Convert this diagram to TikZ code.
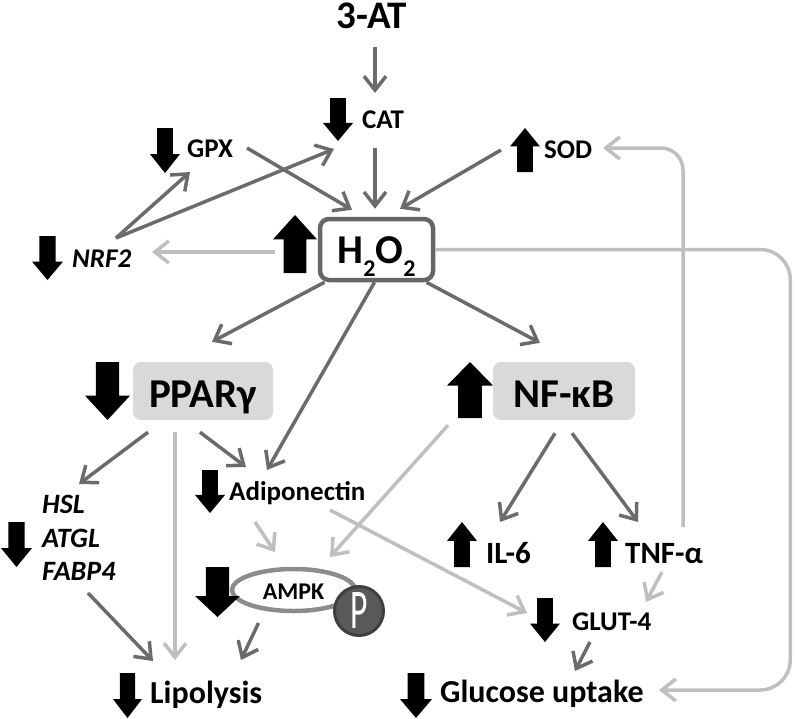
\documentclass[tikz,border=0pt]{standalone}
\usepackage{fontspec}
\setmainfont{Carlito}
\usetikzlibrary{arrows.meta,calc,shapes.geometric}
\definecolor{dk}{HTML}{6B6B6B}
\definecolor{lt}{HTML}{BFBFBF}
\definecolor{boxf}{HTML}{D9D9D9}
\definecolor{hbord}{HTML}{666666}
\definecolor{ampkc}{HTML}{8C8C8C}
\definecolor{pfill}{HTML}{595959}
\definecolor{pbord}{HTML}{3F3F3F}
\newcommand\blkdn[4]{\fill[black] ({#1+0.24*#3},{#2}) -- ({#1+0.76*#3},{#2}) -- ({#1+0.76*#3},{#2+0.58*#4}) -- ({#1+#3},{#2+0.58*#4}) -- ({#1+0.5*#3},{#2+#4}) -- ({#1},{#2+0.58*#4}) -- ({#1+0.24*#3},{#2+0.58*#4}) -- cycle;}
\newcommand\blkup[4]{\fill[black] ({#1+0.24*#3},{#2+#4}) -- ({#1+0.76*#3},{#2+#4}) -- ({#1+0.76*#3},{#2+0.42*#4}) -- ({#1+#3},{#2+0.42*#4}) -- ({#1+0.5*#3},{#2}) -- ({#1},{#2+0.42*#4}) -- ({#1+0.24*#3},{#2+0.42*#4}) -- cycle;}
\newcommand\fs[1]{\fontsize{#1}{#1}\selectfont}
\tikzset{
  lbl/.style={inner sep=0pt, anchor=base west, font=\bfseries\fs{27}},
  dkarr/.style={draw=dk, line width=3.5pt, -{Straight Barb[length=14pt,width=22pt]}},
  ltarr/.style={draw=lt, line width=3.5pt, -{Straight Barb[length=14pt,width=22pt]}},
  graybox/.style={fill=boxf, rounded corners=8pt, inner sep=0pt, minimum width=140pt, minimum height=58pt, text height=32pt, text depth=0pt, font=\bfseries\fs{41}}
}
\begin{document}
\begin{tikzpicture}[x=1pt,y=-1pt]
\useasboundingbox (0,0) rectangle (795,718);
% nodes
\node[lbl, anchor=base, font=\bfseries\fs{39}] (at3) at (372,28) {3-AT};
\node[lbl] (cat) at (362,128) {CAT};
\node[lbl] (gpx) at (187,157) {GPX};
\node[lbl] (sod) at (544,158) {SOD};
\node[lbl, font=\bfseries\itshape\fs{27}] (nrf) at (72,267) {NRF2};
\node[draw=hbord, line width=4.5pt, rounded corners=9pt, minimum width=113pt, minimum height=61pt, inner sep=0pt, text height=40pt, text depth=13pt, font=\bfseries\fs{41}] (h2o2) at (376.5,249.5) {H\raisebox{-13pt}{\fs{24}2}O\raisebox{-13pt}{\fs{24}2}};
\node[graybox] (ppar) at (203,391) {PPARγ};
\node[graybox, minimum width=142pt] (nfkb) at (564,391) {NF-κB};
\node[lbl] (adipo) at (229,500) {Adiponectin};
\node[lbl, font=\bfseries\itshape\fs{28}] (hsl) at (42,513) {HSL};
\node[lbl, font=\bfseries\itshape\fs{28}] (atgl) at (42,547) {ATGL};
\node[lbl, font=\bfseries\itshape\fs{28}] (fabp) at (42,580) {FABP4};
\node[ellipse, draw=ampkc, line width=4.5pt, minimum width=123pt, minimum height=42pt, inner sep=0pt, text height=18pt, text depth=0pt, font=\bfseries\fs{24}] (ampk) at (293.5,590) {AMPK};
\node[circle, draw=pbord, fill=pfill, line width=3pt, minimum size=49pt, inner sep=0pt, text=white] (pc) at (359,611) {\scalebox{0.6}[1]{\fs{56}P}};
\node[lbl, font=\bfseries\fs{32}] (lipo) at (150,703) {Lipolysis};
\node[lbl, font=\bfseries\fs{31}] (il6) at (486,563) {IL-6};
\node[lbl, font=\bfseries\fs{31}] (tnf) at (625,563) {TNF-α};
\node[lbl] (glut) at (572,630) {GLUT-4};
\node[lbl, font=\bfseries\fs{32}] (gluc) at (440,702) {Glucose uptake};
% block arrows
\blkdn{323}{98}{30}{43}
\blkdn{150}{128}{30}{45}
\blkdn{32}{236}{31}{44}
\blkup{273}{215}{44}{58}
\blkup{510}{128}{30}{44}
\blkdn{85}{362}{45}{58}
\blkup{447}{362}{46}{56}
\blkdn{195}{470}{30}{43}
\blkdn{1}{522}{31}{45}
\blkdn{195}{567}{45}{50}
\blkdn{113}{673}{29}{45}
\blkup{447}{522}{30}{45}
\blkup{588}{522}{30}{45}
\blkdn{530}{598}{30}{44}
\blkdn{400}{673}{32}{45}
% dark connectors
\draw[dkarr] ($(at3.base)+(3,19)$) -- ($(cat.base west)+(13,-35)$);
\draw[dkarr] ($(cat.base west)+(13,20)$) -- ($(h2o2.north)+(-1.5,-8)$);
\draw[dkarr] ($(gpx.base west)+(60,-9)$) -- ($(h2o2.north)+(-24.5,-7)$);
\draw[dkarr] ($(nrf.base west)+(44,-29)$) -- ($(gpx.base west)+(3,15)$);
\draw[dkarr] ($(nrf.base west)+(44,-29)$) -- ($(cat.base west)+(-28,21)$);
\draw[dkarr] ($(sod.base west)+(-43,-8)$) -- ($(h2o2.north)+(23.5,-8)$);
\draw[dkarr] ($(h2o2.south)+(-52,0)$) -- ($(ppar.north)+(9,-20)$);
\draw[dkarr] ($(h2o2.south)+(-2,0)$) -- ($(adipo.base west)+(38,-30)$);
\draw[dkarr] ($(h2o2.south)+(50,0)$) -- ($(nfkb.north)+(-24,-19)$);
\draw[dkarr] ($(ppar.south)+(-55,12)$) -- ($(hsl.base west)+(37,-29)$);
\draw[dkarr] ($(ppar.south)+(-3,12)$) -- ($(adipo.base west)+(17,-33)$);
\draw[dkarr] ($(fabp.base west)+(46,13)$) -- ($(lipo.base west)+(3,-42)$);
\draw[dkarr] ($(ampk.center)+(-35,33)$) -- ($(lipo.base west)+(91,-43)$);
\draw[dkarr] ($(nfkb.south)+(-9,13)$) -- ($(il6.base west)+(14,-41)$);
\draw[dkarr] ($(nfkb.south)+(8,13)$) -- ($(tnf.base west)+(13,-41)$);
\draw[dkarr] ($(glut.base west)+(18,12)$) -- ($(gluc.base west)+(135,-31)$);
% light connectors
\draw[ltarr] ($(h2o2.west)+(-43,2.5)$) -- ($(nrf.base west)+(80,-15)$);
\draw[ltarr] ($(ppar.south)+(-28,12)$) -- ($(lipo.base west)+(25,-43)$);
\draw[ltarr] ($(adipo.base west)+(26,22)$) -- ($(ampk.center)+(-18.5,-38)$);
\draw[ltarr] ($(nfkb.south)+(-116,5)$) -- ($(ampk.center)+(36.5,-33)$);
\draw[ltarr] ($(adipo.base west)+(101,10)$) -- ($(glut.base west)+(-45,-17)$);
\draw[ltarr] ($(tnf.base west)+(37,9)$) -- ($(glut.base west)+(74,-28)$);
\draw[ltarr, rounded corners=22pt] ($(tnf.base west)+(58,-36)$) |- ($(sod.base west)+(59,-10)$);
\draw[ltarr, rounded corners=30pt] (h2o2.east) -- ++(355,0) |- ($(gluc.base west)+(219,-12)$);
\end{tikzpicture}
\end{document}
